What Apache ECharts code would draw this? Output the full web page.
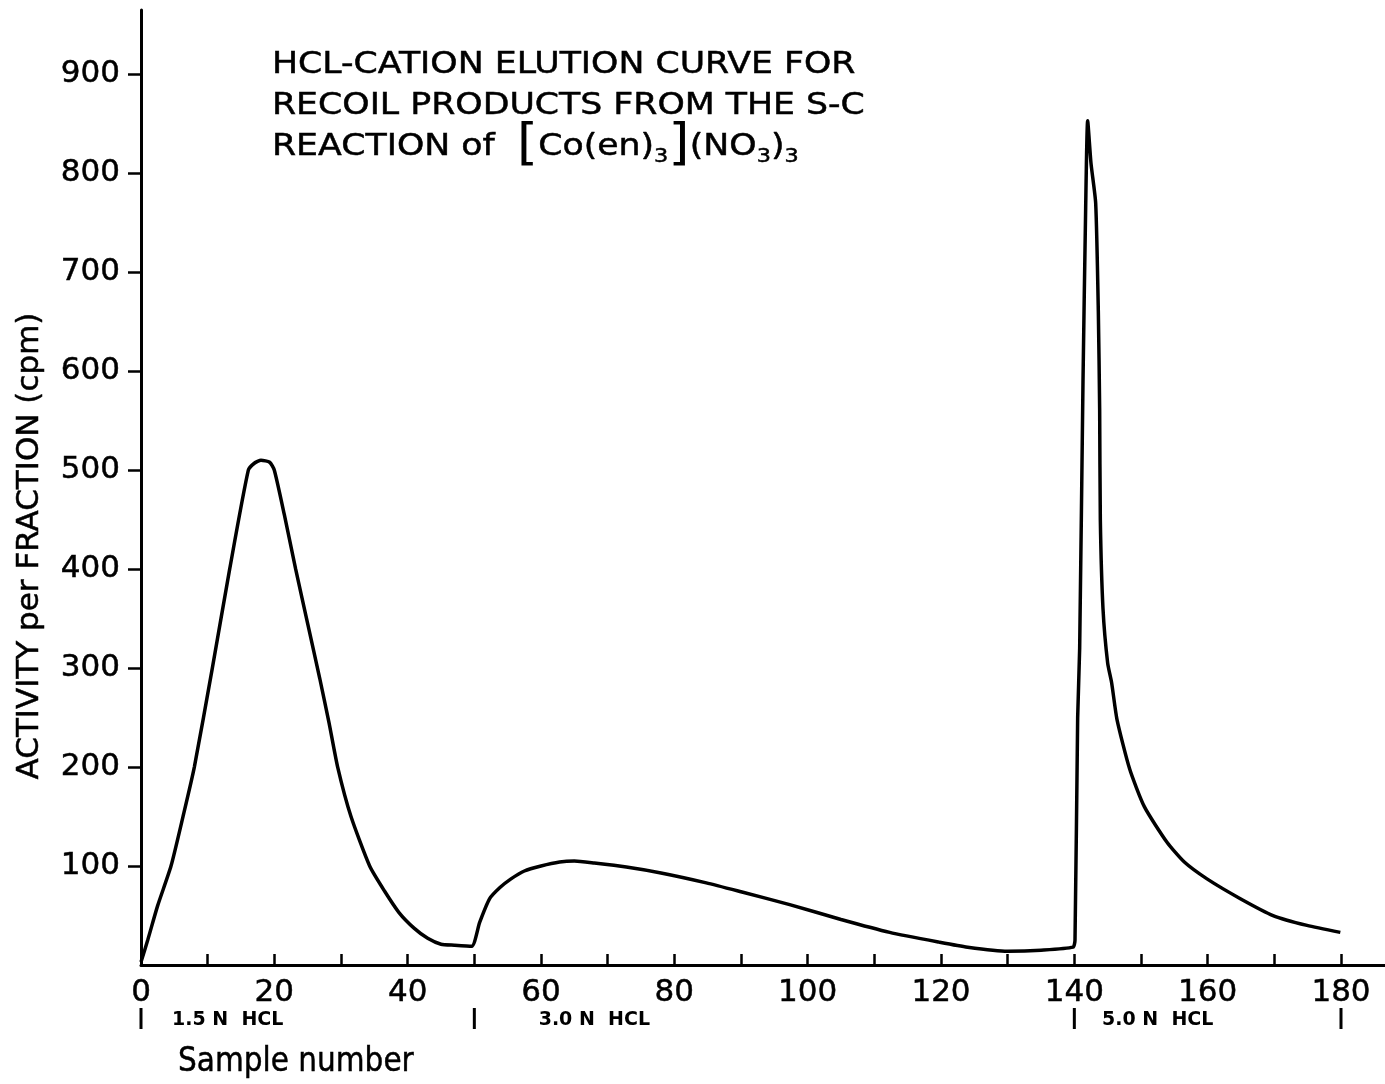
<!DOCTYPE html>
<html>
<head>
<meta charset="utf-8">
<script src="https://cdn.jsdelivr.net/npm/echarts@6/dist/echarts.min.js"></script>
<style>
  html, body { margin: 0; padding: 0; background: #fff; }
  #chart { width: 1385px; height: 1084px; }
</style>
</head>
<body>
<div id="chart"></div>
<script>
// Elution profile: fraction (sample) number and activity per fraction in cpm
const sampleNumber = [
  0, 1, 2.5, 4.5, 6.3, 8.0, 10.7, 13.3, 16.1, 17, 18, 19.3, 20, 21.5, 23.2, 25, 26.8, 28.2, 29.5, 31.5, 34.3, 36.5, 38.7, 41, 43, 45, 47, 49.6,
  50.8, 52.3, 53.8, 55.5, 57.5, 60, 62.8, 65, 68, 72.8, 78, 84.8, 90, 97.3, 105, 112.3, 119.8, 124, 130, 135, 139.8,
  140.1, 140.5, 140.8, 141.3, 141.7, 142.0, 142.5, 143.2, 143.6, 143.8, 143.9, 144.3, 145, 145.6, 146.4, 148.3, 150.5, 153.9, 156.5, 159.9, 164.9, 169.8, 174.9, 179.9
];
const activity = [
  3, 25, 60, 100, 150, 200, 300, 400, 500, 507, 510, 508, 500, 455, 400, 345, 290, 245, 200, 150, 100, 75, 53, 37, 27, 21, 20, 19,
  43, 67, 78, 87, 95, 100, 104, 105, 103, 99, 93, 83, 74, 61, 46, 33, 23, 18, 14, 15, 18,
  25, 250, 320, 590, 765, 853, 810, 770, 660, 560, 450, 360, 305, 285, 248, 198, 160, 124, 104, 87, 67, 50, 40, 33
];

// Axis ticks and labels
const yTickValues = [100, 200, 300, 400, 500, 600, 700, 800, 900];
const xTickValues = [0, 10, 20, 30, 40, 50, 60, 70, 80, 90, 100, 110, 120, 130, 140, 150, 160, 170, 180];
const xLabelValues = [0, 20, 40, 60, 80, 100, 120, 140, 160, 180];

// Eluent steps below the sample axis
const eluentBounds = [0, 50, 140, 180];
const eluentNames = ['1.5 N  HCL', '3.0 N  HCL', '5.0 N  HCL'];
const eluentLabelAt = [13, 68, 152.5];

const X_MAX = 186.6;
const Y_MAX = 965;
const FONT = 'DejaVu Sans';

const chart = echarts.init(document.getElementById('chart'), null, { renderer: 'canvas' });

chart.setOption({
  animation: false,
  backgroundColor: '#fff',
  grid: { left: 141, right: 0, top: 10, bottom: 119, containLabel: false },
  xAxis: [
    {
      type: 'value', min: 0, max: X_MAX, position: 'bottom',
      axisLine: { show: true, onZero: false, lineStyle: { color: '#000', width: 3 } },
      axisTick: { show: true, inside: true, length: 11, customValues: xTickValues, lineStyle: { color: '#000', width: 2.5 } },
      axisLabel: {
        customValues: xLabelValues, margin: 12, color: '#000', fontSize: 31, fontFamily: FONT,
        textBorderColor: '#000', textBorderWidth: 0.5
      },
      splitLine: { show: false }
    },
    {
      type: 'value', min: 0, max: X_MAX, position: 'bottom', offset: 43,
      axisLine: { show: false },
      axisTick: { show: false },
      axisLabel: {
        customValues: eluentLabelAt, margin: 3, color: '#000', fontSize: 19, fontWeight: 'bold', fontFamily: FONT,
        formatter: v => { const i = eluentLabelAt.indexOf(v); return i >= 0 ? eluentNames[i] : ''; }
      },
      splitLine: { show: false }
    }
  ],
  yAxis: {
    type: 'value', min: 0, max: Y_MAX,
    axisLine: { show: true, onZero: false, lineStyle: { color: '#000', width: 3 } },
    axisTick: { show: true, inside: false, length: 13, customValues: yTickValues, lineStyle: { color: '#000', width: 2.5 } },
    axisLabel: {
      customValues: yTickValues, margin: 21, color: '#000', fontSize: 31, fontFamily: FONT,
      textBorderColor: '#000', textBorderWidth: 0.5
    },
    splitLine: { show: false }
  },
  series: [
    {
      type: 'line',
      xAxisIndex: 0,
      data: sampleNumber.map((x, i) => [x, activity[i]]),
      showSymbol: false,
      smooth: 0.2,
      lineStyle: { color: '#000', width: 3.5 },
      z: 3
    },
    {
      // short bars under the sample axis marking where each eluent starts and ends
      type: 'custom',
      xAxisIndex: 0,
      clip: false,
      silent: true,
      data: eluentBounds.map(x => [x, 0]),
      renderItem: (params, api) => {
        const p = api.coord([api.value(0), 0]);
        return {
          type: 'line',
          shape: { x1: p[0], y1: p[1] + 43, x2: p[0], y2: p[1] + 64 },
          style: { stroke: '#000', lineWidth: 3 }
        };
      }
    }
  ],
  graphic: [
    {
      type: 'text', x: 272, y: 44, scaleX: 1.12,
      style: {
        text: '{n|HCL-CATION ELUTION CURVE FOR}\n{n|RECOIL PRODUCTS FROM THE S-C}\n{n|REACTION of  }{b|[}{n|Co(en)}{s|3}{b|]}{n|(NO}{s|3}{n|)}{s|3}',
        fill: '#000',
        rich: {
          n: { fontSize: 31, fontFamily: FONT, lineHeight: 41, fill: '#000', stroke: '#000', lineWidth: 0.5 },
          s: { fontSize: 20, fontFamily: FONT, lineHeight: 20, verticalAlign: 'bottom', fill: '#000', stroke: '#000', lineWidth: 0.5 },
          b: { fontSize: 49, fontFamily: FONT, lineHeight: 41, fill: '#000' }
        }
      }
    },
    {
      type: 'text', x: 30, y: 546, rotation: Math.PI / 2,
      style: {
        text: 'ACTIVITY per FRACTION (cpm)', font: '31px "DejaVu Sans"', fill: '#000',
        stroke: '#000', lineWidth: 0.5, align: 'center', verticalAlign: 'middle'
      }
    },
    {
      type: 'text', x: 178, y: 1062, scaleX: 0.87,
      style: {
        text: 'Sample number', font: '34px "DejaVu Sans"', fill: '#000',
        stroke: '#000', lineWidth: 0.5, align: 'left', verticalAlign: 'middle'
      }
    }
  ]
});
</script>
</body>
</html>
